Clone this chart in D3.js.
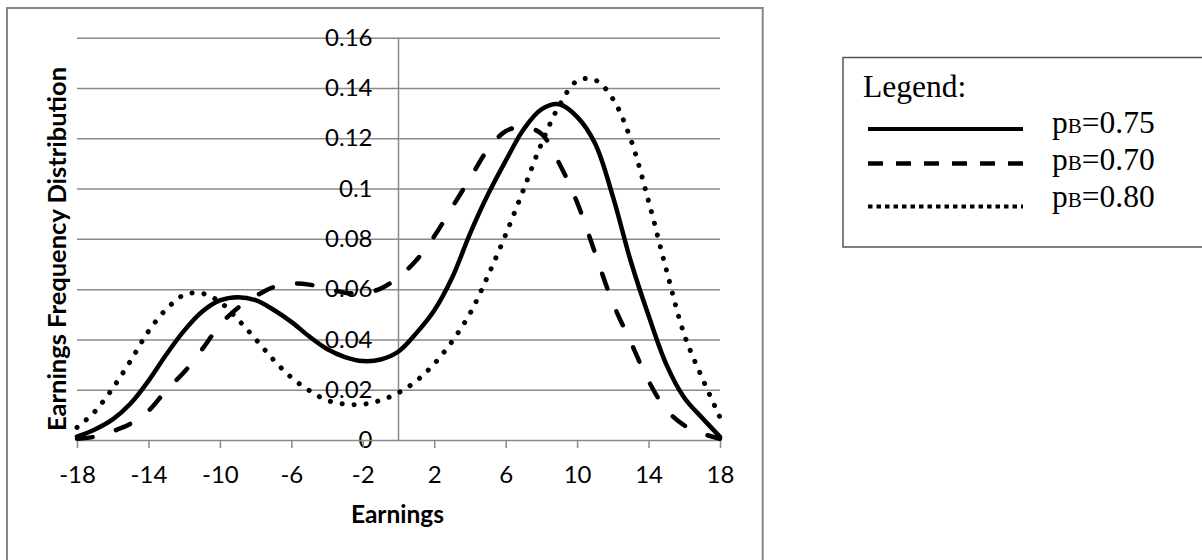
<!DOCTYPE html>
<html>
<head>
<meta charset="utf-8">
<script src="https://cdn.jsdelivr.net/npm/d3@7"></script>
<style>
  html, body { margin: 0; padding: 0; background: #fff; }
  svg { display: block; }
</style>
</head>
<body>
<svg id="chart" width="1202" height="560"></svg>
<script>
// ---- data ----
const earnings = [-18,-17,-16,-15,-14,-13,-12,-11,-10,-9,-8,-7,-6,-5,-4,-3,-2,-1,0,1,2,3,4,5,6,7,8,9,10,11,12,13,14,15,16,17,18];
const pb075 = [0.0013,0.0042,0.0082,0.0145,0.0235,0.0340,0.0435,0.0510,0.0555,0.0568,0.0556,0.0518,0.0470,0.0412,0.0362,0.0330,0.0314,0.0320,0.0352,0.0425,0.0515,0.0645,0.0820,0.0975,0.1110,0.1235,0.1315,0.1335,0.1285,0.1180,0.0969,0.0712,0.0495,0.0300,0.0168,0.0088,0.0013];
const pb070 = [0.0005,0.0013,0.0035,0.0065,0.0116,0.0198,0.0270,0.0360,0.0457,0.0525,0.0572,0.0608,0.0622,0.0618,0.0602,0.0586,0.0584,0.0602,0.0648,0.0715,0.0810,0.0925,0.1040,0.1155,0.1228,0.1245,0.1218,0.1100,0.0945,0.0745,0.0545,0.0390,0.0235,0.0120,0.0058,0.0026,0.0005];
const pb080 = [0.0050,0.0113,0.0206,0.0315,0.0432,0.0520,0.0577,0.0583,0.0549,0.0480,0.0401,0.0319,0.0249,0.0197,0.0158,0.0143,0.0142,0.0158,0.0188,0.0235,0.0303,0.0392,0.0503,0.0652,0.0817,0.0996,0.1178,0.1330,0.1428,0.1432,0.1357,0.1196,0.0950,0.0676,0.0419,0.0247,0.0090];
const xTicks = [-18,-14,-10,-6,-2,2,6,10,14,18];
const yTicks = [0,0.02,0.04,0.06,0.08,0.1,0.12,0.14,0.16];
const seriesNames = ["pB=0.75","pB=0.70","pB=0.80"];
const xTitle = "Earnings";
const yTitle = "Earnings Frequency Distribution";
const legendTitle = "Legend:";

// ---- layout ----
const svg = d3.select("#chart");
const L = 77, R = 720, T = 37.7, B = 440;
const x = d3.scaleLinear().domain([-18,18]).range([L,R]);
const y = d3.scaleLinear().domain([0,0.16]).range([B,T]);
const grid = "#8a8a8a";
const sansFont = "Lato, 'Open Sans', sans-serif";
const serifFont = "'Liberation Serif', 'DejaVu Serif', serif";

// outer chart border
svg.append("rect").attr("x",7).attr("y",8).attr("width",755.7).attr("height",570)
  .attr("fill","none").attr("stroke","#878787").attr("stroke-width",2);

// horizontal gridlines
const gridAxis = d3.axisLeft(y).tickValues(yTicks.filter(d=>d>0)).tickSize(R-L).tickFormat("");
svg.append("g").attr("transform",`translate(${R},0)`).call(gridAxis)
  .call(g=>g.select(".domain").remove())
  .call(g=>g.selectAll(".tick line").attr("stroke",grid).attr("stroke-width",1.5));

// vertical y axis at x=0
svg.append("line").attr("x1",x(0)).attr("x2",x(0)).attr("y1",T).attr("y2",B)
  .attr("stroke",grid).attr("stroke-width",1.5);

// y tick labels
const yAxis = d3.axisLeft(y).tickValues(yTicks).tickSize(0).tickPadding(26)
  .tickFormat(d=>d3.format("")(+d.toFixed(2)));
svg.append("g").attr("transform",`translate(${x(0)},0)`).call(yAxis)
  .call(g=>g.select(".domain").remove())
  .call(g=>g.selectAll("text").attr("font-family",sansFont).attr("font-size",24).attr("fill","#000"));

// x axis
const xAxis = d3.axisBottom(x).tickValues(xTicks).tickSizeInner(8).tickSizeOuter(0).tickPadding(18)
  .tickFormat(d=>d);
svg.append("g").attr("transform",`translate(0,${B})`).call(xAxis)
  .call(g=>g.select(".domain").attr("stroke",grid).attr("stroke-width",1.5))
  .call(g=>g.selectAll(".tick line").attr("stroke",grid).attr("stroke-width",1.5))
  .call(g=>g.selectAll("text").attr("font-family",sansFont).attr("font-size",24).attr("fill","#000"));

// axis titles
svg.append("text").attr("x",x(0)-1).attr("y",523).attr("text-anchor","middle")
  .attr("font-family",sansFont).attr("font-weight","bold").attr("font-size",24.5).text(xTitle);
svg.append("text").attr("transform",`translate(66,249) rotate(-90)`).attr("text-anchor","middle")
  .attr("font-family",sansFont).attr("font-weight","bold").attr("font-size",25.5).text(yTitle);

// curves
const styles = [
  {data:pb075, dash:null, cap:"round", w:4.5},
  {data:pb070, dash:"15.5,24.5", cap:"round", w:4.5},
  {data:pb080, dash:"0.1,11.9", cap:"round", w:5}
];
const line = d3.line().x((d,i)=>x(earnings[i])).y(d=>y(d)).curve(d3.curveCatmullRom.alpha(0.5));
styles.forEach(s=>{
  svg.append("path").attr("d",line(s.data)).attr("fill","none").attr("stroke","#000")
    .attr("stroke-width",s.w).attr("stroke-linecap",s.cap).attr("stroke-linejoin","round")
    .attr("stroke-dasharray",s.dash);
});

// legend
const lg = svg.append("g");
lg.append("rect").attr("x",843).attr("y",57.5).attr("width",420).attr("height",189.5)
  .attr("fill","#fff").attr("stroke","#555").attr("stroke-width",1.5);
lg.append("text").attr("x",863).attr("y",97).attr("font-family",serifFont).attr("font-size",31.5).text(legendTitle);
const legendRows = [
  {ly:129, ty:133, dash:null, w:4, cap:"butt"},
  {ly:163.5, ty:170, dash:"15,13", w:4.5, cap:"butt"},
  {ly:206.5, ty:207, dash:"4.5,4", w:4, cap:"butt"}
];
legendRows.forEach((r,i)=>{
  lg.append("line").attr("x1",868).attr("x2",1023).attr("y1",r.ly).attr("y2",r.ly)
    .attr("stroke","#000").attr("stroke-width",r.w).attr("stroke-dasharray",r.dash).attr("stroke-linecap",r.cap);
  const name = seriesNames[i];
  const t = lg.append("text").attr("x",1052).attr("y",r.ty).attr("font-family",serifFont).attr("font-size",31.5);
  t.append("tspan").text(name.slice(0,1));
  t.append("tspan").attr("font-size",21).text(name.slice(1,2));
  t.append("tspan").text(name.slice(2));
});
</script>
</body>
</html>
